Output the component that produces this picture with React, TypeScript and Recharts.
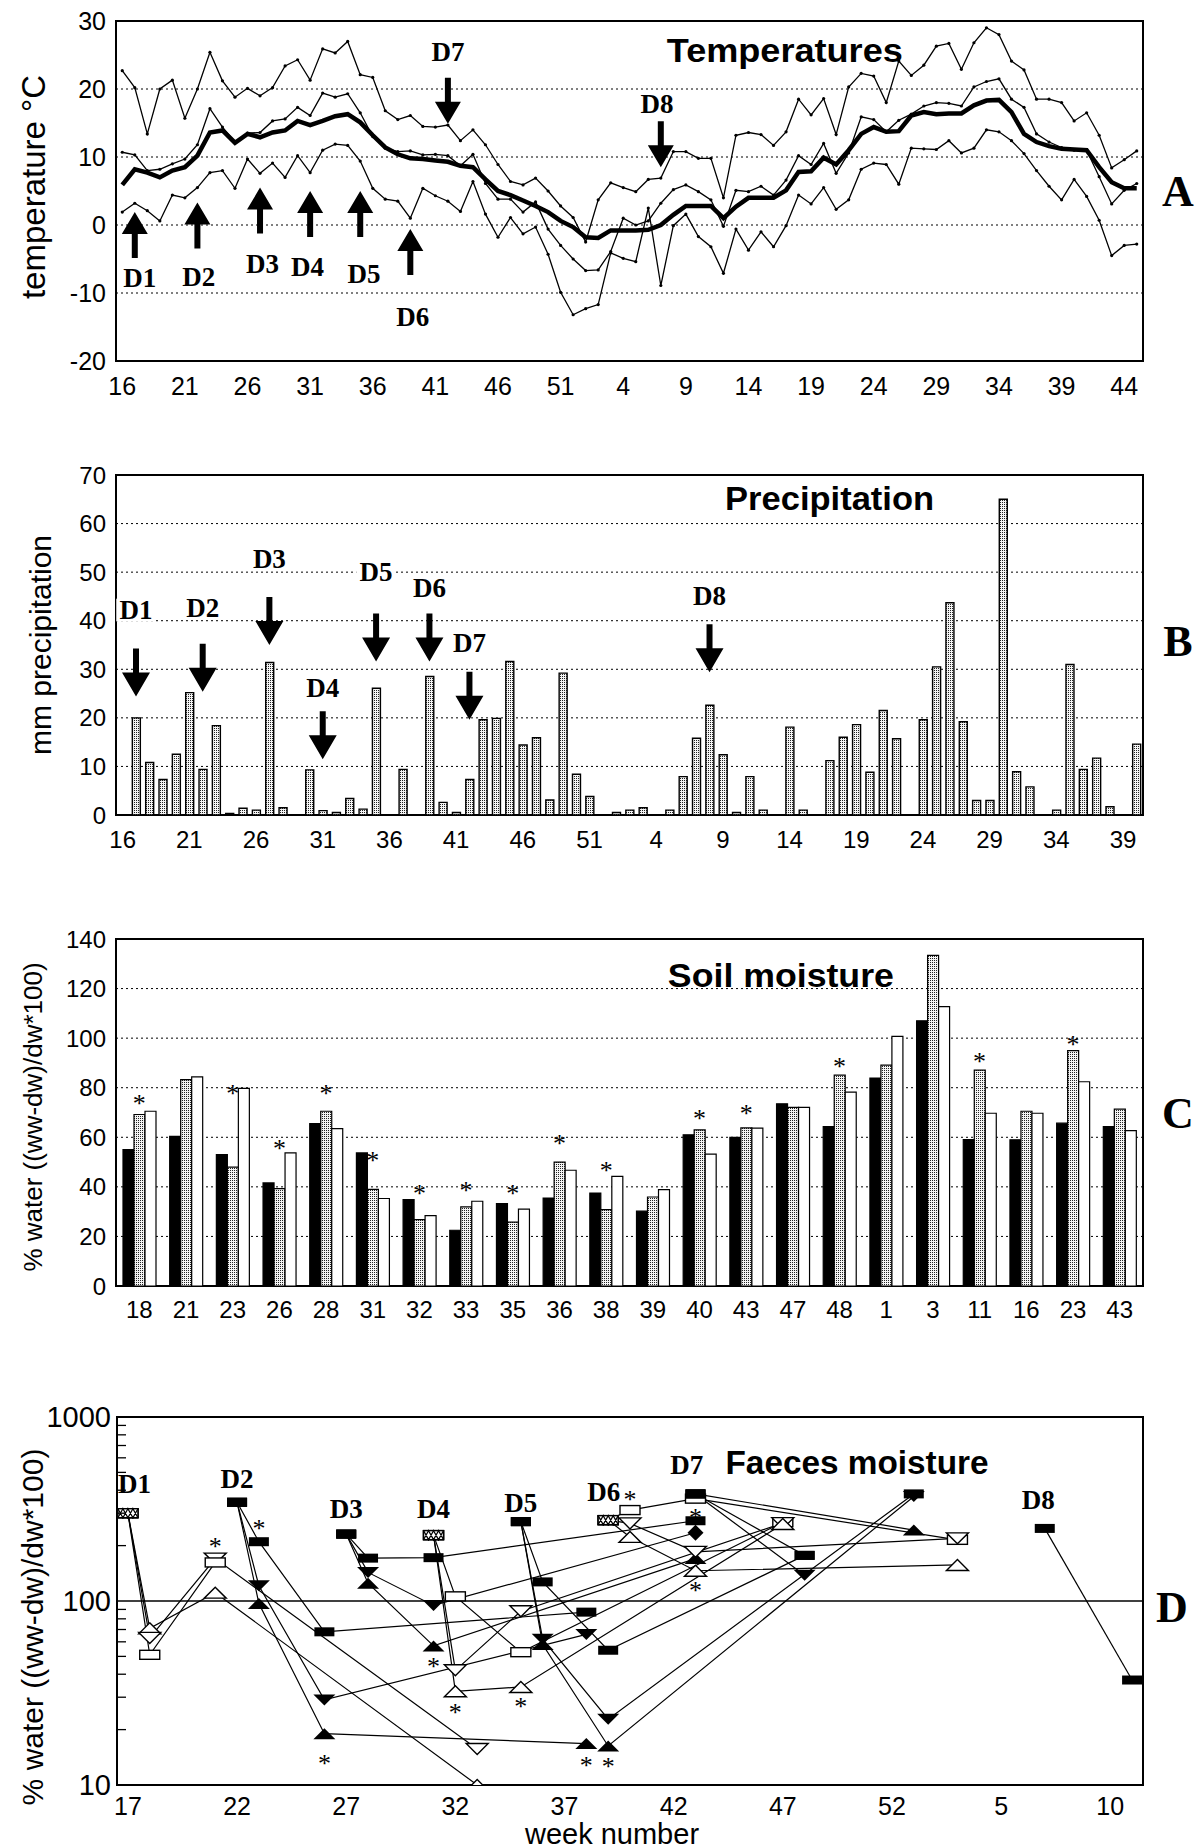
import React from 'react';
import {
  ComposedChart, Line, Bar, Scatter, XAxis, YAxis, CartesianGrid,
  ReferenceArea, ReferenceLine,
} from 'recharts';

const SANS = '"Liberation Sans", Arial, Helvetica, sans-serif';
const SERIF = '"Liberation Serif", "Times New Roman", serif';

// ---------------- Panel A : temperatures ----------------
const weeksA = [16,17,18,19,20,21,22,23,24,25,26,27,28,29,30,31,32,33,34,35,36,37,38,39,40,41,42,43,44,45,46,47,48,49,50,51,52,
  1,2,3,4,5,6,7,8,9,10,11,12,13,14,15,16,17,18,19,20,21,22,23,24,25,26,27,28,29,30,31,32,33,34,35,36,37,38,39,40,41,42,43,44,45];
const tickIdxA = [0,5,10,15,20,25,30,35,40,45,50,55,60,65,70,75,80];
const maxA = [22.7,20.2,13.4,20,21.3,15.7,20,25.4,21.2,18.8,20.1,19,20.2,23.4,24.3,21.3,25.9,25.3,27,22.1,21.7,16.8,15.5,16.1,14.5,14.4,14.7,12.4,14,11.8,8.9,6.4,5.9,6.9,5,2.8,1.1,
  -2.5,3.7,6.2,5.5,4.9,6.7,6.9,10.8,10.8,9.8,9.8,4.0,13.2,13.6,13.3,11.7,13.7,18.5,16.2,18.6,13.3,20.3,22.3,21.9,18,24.1,22,23.5,26.3,26.7,22.9,26.8,29,28,24.1,22.8,18.5,18.5,18,15.3,16.5,13.2,8.4,9.6,10.9];
const hiA = [10.7,10.3,8,8.2,9,9.7,11.8,17.1,14.4,12.2,13.5,13.6,15.3,15.6,17.3,16.1,19.4,18.8,19.3,16.5,13,11.3,10.8,10.9,10.3,10.4,10.2,8.7,10.4,6.1,3.8,3.8,1.9,3.4,-0.6,-3,-5,
  -6.7,-6.6,-3.9,1,0,0.6,3.2,5.2,5.9,4.9,3.7,-0.2,5.1,4.9,5.7,4.4,6.6,10.2,8.9,12,7.6,10.6,15.9,15.5,13.7,15.4,16.3,17.5,18,17.9,17.5,20.3,21.1,21.5,18.5,17.3,13.4,12.2,11.4,11,11,7.1,3.1,5.1,6.1];
const meanA = [5.9,8.2,7.7,7,8,8.5,10.2,13.6,13.9,12.1,13.4,12.9,13.6,13.9,15.3,14.7,15.3,16,16.3,15.1,13.2,11.4,10.4,9.8,9.7,9.5,9.3,8.7,8.5,6.7,5,4.4,3.6,2.8,1.9,0.6,-0.3,
  -1.8,-1.9,-0.8,-0.8,-0.8,-0.7,0,1.5,2.8,2.8,2.8,1,2.7,4,4,4,5.1,7.8,7.9,9.9,8.9,11,13.4,14.4,13.7,13.8,16.1,16.6,16.3,16.4,16.4,17.6,18.3,18.4,16.6,13.4,12.2,11.6,11.2,11.1,11,8.5,6.3,5.4,5.4];
const minA = [1.9,3.2,2.1,0.6,4.4,4,5.5,7.7,8,5.4,9.7,7.6,9.1,7,10.2,7.7,11,11.9,11.7,9.4,5.4,3.8,3.5,1,5.4,4.3,3.5,2,6.4,1.6,-1.8,1.1,-1.3,-0.3,-4.3,-9.9,-13.2,
  -12.3,-11.7,-4.1,-4.9,-5.4,2.5,-8.9,-0.1,1.6,-1.7,-3.2,-7.1,-0.6,-3.7,-1,-3.2,-0.1,4.4,3.1,5.5,2.3,3.7,8.2,9.1,8.9,6,11.3,11.2,11.1,12.4,10.6,11.3,14,13.7,12.4,10.5,8,5.7,3.7,6.7,4.2,0.7,-4.5,-3,-2.8];
const arrowsA = [
  { i: 1, y: 1.9, dir: 'up' }, { i: 6, y: 3.3, dir: 'up' }, { i: 11, y: 5.5, dir: 'up' },
  { i: 15, y: 5, dir: 'up' }, { i: 19, y: 5, dir: 'up' }, { i: 23, y: -0.6, dir: 'up' },
  { i: 26, y: 14.9, dir: 'down' }, { i: 43, y: 8.5, dir: 'down' },
];
const labelsA = [
  { i: 1.4, y: -7.8, t: 'D1' }, { i: 6.1, y: -7.7, t: 'D2' }, { i: 11.2, y: -5.7, t: 'D3' },
  { i: 14.8, y: -6.2, t: 'D4' }, { i: 19.3, y: -7.2, t: 'D5' }, { i: 23.2, y: -13.6, t: 'D6' },
  { i: 26, y: 25.4, t: 'D7' }, { i: 42.7, y: 17.8, t: 'D8' },
];
const titleA = [{ i: 52.9, y: 25.8, t: 'Temperatures' }];
const rowsA = weeksA.map((w, i) => ({ i, w, max: maxA[i], hi: hiA[i], mean: meanA[i], min: minA[i] }));

// ---------------- Panel B : precipitation ----------------
const weeksB = [16,17,18,19,20,21,22,23,24,25,26,27,28,29,30,31,32,33,34,35,36,37,38,39,40,41,42,43,44,45,46,47,48,49,50,51,52,
  1,2,3,4,5,6,7,8,9,10,11,12,13,14,15,16,17,18,19,20,21,22,23,24,25,26,27,28,29,30,31,32,33,34,35,36,37,38,39,40];
const precipB = [0,20,10.8,7.3,12.5,25.2,9.4,18.4,0.3,1.4,1.0,31.4,1.5,0,9.3,0.9,0.5,3.4,1.2,26.1,0,9.4,0,28.5,2.6,0.5,7.3,19.6,19.9,31.6,14.4,15.9,3.1,29.2,8.4,3.8,0,
  0.5,1.0,1.5,0,1.0,7.9,15.8,22.6,12.4,0.5,7.9,1,0,18.1,1,0,11.2,16,18.6,8.8,21.5,15.7,0,19.6,30.5,43.7,19.2,3,3,65,8.9,5.8,0,1,31,9.4,11.7,1.7,0,14.6];
const arrowsB = [
  { k: 'a17', y: 24.4 }, { k: 'a22', y: 25.4 }, { k: 'a27', y: 35 }, { k: 'a31', y: 11.5 },
  { k: 'a35', y: 31.6 }, { k: 'a39', y: 31.6 }, { k: 'a42', y: 19.6 }, { k: 'b8', y: 29.4 },
];
const labelsB = [
  { k: 'a17', y: 42.2, t: 'D1' }, { k: 'a22', y: 42.6, t: 'D2' }, { k: 'a27', y: 52.8, t: 'D3' },
  { k: 'a31', y: 26.1, t: 'D4' }, { k: 'a35', y: 50.1, t: 'D5' }, { k: 'a39', y: 46.7, t: 'D6' },
  { k: 'a42', y: 35.5, t: 'D7' }, { k: 'b8', y: 45, t: 'D8' },
];
const titleB = { k: 'b17', y: 65.3, t: 'Precipitation' };
const rowsB = weeksB.map((w, i) => {
  const k = (i < 37 ? 'a' : 'b') + w;
  const ar = arrowsB.find((a) => a.k === k);
  const lb = labelsB.find((a) => a.k === k);
  return {
    k, w, p: precipB[i],
    arrow: ar ? ar.y : null,
    labY: lb ? lb.y : null, t: lb ? lb.t : null,
    ttlY: titleB.k === k ? titleB.y : null, ttl: titleB.k === k ? titleB.t : null,
  };
});

// ---------------- Panel C : soil moisture ----------------
const catsC = ['18','21','23','26','28','31','32','33','35','36','38','39','40','43','47','48','1','3','11','16','23','43'];
const blackC = [55,60.4,53,41.6,65.5,53.7,34.9,22.5,33.2,35.5,37.5,30.2,61,60,73.5,64.3,83.9,107,59.1,59,65.7,64.3];
const dotC = [69.2,83.3,48,39.3,70.5,39,26.8,31.9,25.8,50,30.8,35.9,63,63.8,72.1,85.1,89.1,133.4,87.1,70.5,95,71.4];
const whiteC = [70.5,84.4,79.7,53.7,63.5,35.3,28.4,34.2,31,46.7,44.2,38.9,53.2,63.7,72.1,78.2,100.7,112.7,69.7,69.7,82.4,62.7];
const starC = [75,null,79,57,79,52,39,40,39,59,48,null,69,71,null,90,null,null,92,null,99,null];
const titleC = { idx: 14, y: 125.5, t: 'Soil moisture' };
const rowsC = catsC.map((c, i) => ({
  k: 'c' + i, b: blackC[i], d: dotC[i], w: whiteC[i], star: starC[i],
  ttlY: titleC.idx === i ? titleC.y : null, ttl: titleC.idx === i ? titleC.t : null,
}));

// ---------------- Panel D : faeces moisture ----------------
// each polyline: [week index (weeks after 52 continue as 53, 54 ...), value, marker]
const d1Lines = [
  [[17,300,'X'],[18,71,'oU'],[21,111,'oU'],[33,10,'oU']],
  [[17,300,'X'],[18,63,'oD'],[21,170,'oD'],[33,15.7,'oD']],
  [[17,300,'X'],[18,51,'oS'],[21,162,'oS']],
];
const d2Lines = [
  [[22,344,'S'],[23,210,'S'],[26,68,'S'],[38,87,'S']],
  [[22,344,'S'],[23,121,'Dn'],[26,29,'Dn'],[38,65.8,'Dn']],
  [[22,344,'S'],[23,97,'U'],[26,19,'U'],[38,16.8,'U']],
];
const d3Lines = [
  [[27,231,'S'],[28,171,'S'],[31,172,'S'],[43,273,'S']],
  [[27,231,'S'],[28,143,'Dn'],[31,94.6,'Dn'],[43,235,'Dm']],
  [[27,231,'S'],[28,125,'U'],[31,57,'U'],[43,170,'U']],
];
const d4Lines = [
  [[31,228,'X'],[32,106,'oS'],[35,52.7,'oS'],[47,268,'oS']],
  [[31,228,'X'],[32,42,'oD'],[35,88,'oD'],[47,265,'oD']],
  [[31,228,'X'],[32,32.3,'oU'],[35,34.1,'oU'],[47,262,'oU']],
];
const d5Lines = [
  [[35,270,'S'],[36,127,'S'],[39,54,'S'],[48,177,'S']],
  [[35,270,'S'],[36,62,'Dn'],[39,22.8,'Dn'],[53,382,'S']],
  [[35,270,'S'],[36,58,'U'],[39,16.3,'U'],[53,370,'Dn']],
];
const d6Lines = [
  [[39,275,'X'],[40,312,'oS'],[43,360,'oS'],[55,215,'oS']],
  [[39,275,'X'],[40,264,'oD'],[43,185,'oD'],[55,219,'oD']],
  [[39,275,'X'],[40,223,'oU'],[43,146,'oU'],[55,157,'oU']],
];
const d7Lines = [
  [[43,382,'S'],[48,177,'S']],
  [[43,382,'S'],[48,138,'Dn']],
  [[43,382,'S'],[53,243,'U']],
];
const d8Lines = [
  [[59,248,'S'],[63,37.2,'S']],
];
const starsD = [[21,208],[23,259],[26,13.7],[31,46],[32,26],[35,27.9],[38,13.4],[39,13.2],[40,374],[43,299],[43,119]];
const labelsD = [[17.3,433,'D1'],[22,461,'D2'],[27,316,'D3'],[31,316,'D4'],[35,343,'D5'],[38.8,393,'D6'],[42.6,549,'D7'],[58.7,354,'D8']];
const titleD = [{ w: 50.4, v: 570, t: 'Faeces moisture' }];
const ticksD = [17,22,27,32,37,42,47,52,57,62];
const logTicksD = [10,20,30,40,50,60,70,80,90,100,200,300,400,500,600,700,800,900,1000];

const allLinesD = [...d1Lines, ...d2Lines, ...d3Lines, ...d4Lines, ...d5Lines, ...d6Lines, ...d7Lines, ...d8Lines];
const lineDataD = allLinesD.map((l) => l.map(([w, v]) => ({ w, v })));
const markersD = allLinesD.flat().map(([w, v, m]) => ({ w, v, m }));
const starDataD = starsD.map(([w, v]) => ({ w, v, t: '*' }));
const labelDataD = labelsD.map(([w, v, t]) => ({ w, v, t }));

// ---------------- shapes ----------------
const ok = (n: any) => typeof n === 'number' && Number.isFinite(n);

const arrowShape = (key: string, L: number, head: number, hw: number, sw: number) => (p: any) => {
  const { cx, cy, payload } = p;
  if (!payload || payload[key] == null || !ok(cx) || !ok(cy)) return <g />;
  const s = payload.dir === 'up' ? 1 : -1;
  const pts = [
    [cx, cy], [cx + hw, cy + s * head], [cx + sw / 2, cy + s * head], [cx + sw / 2, cy + s * L],
    [cx - sw / 2, cy + s * L], [cx - sw / 2, cy + s * head], [cx - hw, cy + s * head],
  ].map((q) => q.join(',')).join(' ');
  return <polygon points={pts} fill="#000" />;
};

const textShape = (key: string, fs: number, family: string, weight: string, opts: any = {}) => (p: any) => {
  const { cx, cy, payload } = p;
  const t = payload ? payload[key] : null;
  if (!t || !ok(cx) || !ok(cy)) return <g />;
  const x = cx + (opts.dx || 0);
  const w = opts.tl || String(t).length * fs * 0.62;
  return (
    <g>
      {opts.bg && <rect x={x - w / 2 - 3} y={cy - fs * 0.42} width={w + 6} height={fs * 0.84} fill="#fff" />}
      <text x={x} y={cy} textAnchor="middle" dominantBaseline="central" fontFamily={family} fontWeight={weight}
        fontSize={fs} fill="#000" textLength={opts.tl} lengthAdjust={opts.tl ? 'spacingAndGlyphs' : undefined}>{t}</text>
    </g>
  );
};

const starShape = (key: string, fs: number) => (p: any) => {
  const { cx, cy, payload } = p;
  if (!payload || payload[key] == null || !ok(cx) || !ok(cy)) return <g />;
  return <text x={cx} y={cy + fs * 0.47} textAnchor="middle" fontFamily={SERIF} fontSize={fs} fill="#000">*</text>;
};

const markerShape = (p: any) => {
  const { cx, cy, payload } = p;
  if (!payload || !ok(cx) || !ok(cy)) return <g />;
  const m = payload.m;
  const hw = 10, hh = 4.5, tw = 11, th = 5.5;
  switch (m) {
    case 'S': return <rect x={cx - hw} y={cy - hh} width={hw * 2} height={hh * 2} fill="#000" />;
    case 'oS': return <rect x={cx - hw} y={cy - hh} width={hw * 2} height={hh * 2} fill="#fff" stroke="#000" strokeWidth={1.4} />;
    case 'X': return (
      <g>
        <rect x={cx - hw} y={cy - hh} width={hw * 2} height={hh * 2} fill="#fff" stroke="#000" strokeWidth={1.4} />
        <path d={`M${cx - hw},${cy - hh} L${cx - hw / 2},${cy + hh} L${cx},${cy - hh} L${cx + hw / 2},${cy + hh} L${cx + hw},${cy - hh} M${cx - hw},${cy + hh} L${cx - hw / 2},${cy - hh} L${cx},${cy + hh} L${cx + hw / 2},${cy - hh} L${cx + hw},${cy + hh}`}
          stroke="#000" strokeWidth={1.2} fill="none" />
      </g>
    );
    case 'U': return <polygon points={`${cx},${cy - th} ${cx + tw},${cy + th} ${cx - tw},${cy + th}`} fill="#000" />;
    case 'Dn': return <polygon points={`${cx},${cy + th} ${cx + tw},${cy - th} ${cx - tw},${cy - th}`} fill="#000" />;
    case 'oU': return <polygon points={`${cx},${cy - th} ${cx + tw},${cy + th} ${cx - tw},${cy + th}`} fill="#fff" stroke="#000" strokeWidth={1.4} />;
    case 'oD': return <polygon points={`${cx},${cy + th} ${cx + tw},${cy - th} ${cx - tw},${cy - th}`} fill="#fff" stroke="#000" strokeWidth={1.4} />;
    case 'Dm': return <polygon points={`${cx},${cy - 8} ${cx + 8},${cy} ${cx},${cy + 8} ${cx - 8},${cy}`} fill="#000" />;
    default: return <g />;
  }
};

const LogTick = (props: any) => {
  const { x, y, payload } = props;
  const v = payload.value;
  const major = v === 10 || v === 100 || v === 1000;
  return (
    <g>
      {!major && <line x1={x} x2={x + 9} y1={y} y2={y} stroke="#000" strokeWidth={1.3} />}
      {major && <text x={x - 6} y={y} textAnchor="end" dominantBaseline="central" fontSize={29} fontFamily={SANS} fill="#000">{v}</text>}
    </g>
  );
};

const tickStyle = (fs: number) => ({ fontSize: fs, fill: '#000', fontFamily: SANS });

const VTitle = ({ text, cx, cy, fs }: any) => (
  <div style={{ position: 'absolute', left: cx, top: cy, transform: 'translate(-50%,-50%) rotate(-90deg)', fontSize: fs, fontFamily: SANS, whiteSpace: 'nowrap', lineHeight: 1, color: '#000' }}>{text}</div>
);
const Letter = ({ text, cx, cy }: any) => (
  <div style={{ position: 'absolute', left: cx, top: cy, transform: 'translate(-50%,-50%)', fontSize: 44, fontFamily: SERIF, fontWeight: 'bold', lineHeight: 1, color: '#000' }}>{text}</div>
);

const frame = { fill: 'none', fillOpacity: 0, stroke: '#000', strokeWidth: 2 };

export default function App() {
  return (
    <div style={{ position: 'absolute', left: 0, top: 0, width: 1202, height: 1848, background: '#fff', overflow: 'hidden' }}>
      <svg width={0} height={0} style={{ position: 'absolute' }}>
        <defs>
          <pattern id="stip" width={2} height={2} patternUnits="userSpaceOnUse">
            <rect width={2} height={2} fill="#f4f4f4" />
            <rect x={0} y={0} width={1} height={1} fill="#222" />
          </pattern>
        </defs>
      </svg>

      {/* Panel A */}
      <div style={{ position: 'absolute', left: 0, top: 0 }}>
        <ComposedChart width={1202} height={400} data={rowsA} margin={{ top: 21, right: 59, bottom: 9, left: 0 }}>
          <CartesianGrid vertical={false} stroke="#000" strokeDasharray="2 3" />
          <XAxis dataKey="i" type="number" domain={[-0.5, 81.5]} ticks={tickIdxA} interval={0}
            tickFormatter={(v: number) => String(weeksA[v])} axisLine={false} tickLine={false} tickSize={0} tickMargin={16} height={30} tick={tickStyle(25)} />
          <YAxis type="number" domain={[-20, 30]} ticks={[-20, -10, 0, 10, 20, 30]} interval={0} width={116}
            axisLine={false} tickLine={false} tickSize={0} tickMargin={10} tick={tickStyle(25)} />
          <ReferenceArea y1={-20} y2={30} {...frame} />
          <Line dataKey="max" stroke="#000" strokeWidth={1.3} dot={{ r: 1.6, fill: '#000', stroke: 'none' }} isAnimationActive={false} />
          <Line dataKey="hi" stroke="#000" strokeWidth={1.3} dot={{ r: 1.6, fill: '#000', stroke: 'none' }} isAnimationActive={false} />
          <Line dataKey="min" stroke="#000" strokeWidth={1.3} dot={{ r: 1.6, fill: '#000', stroke: 'none' }} isAnimationActive={false} />
          <Line dataKey="mean" stroke="#000" strokeWidth={4.5} dot={false} isAnimationActive={false} />
          <Scatter data={arrowsA} dataKey="y" shape={arrowShape('y', 46, 22, 13, 6)} isAnimationActive={false} />
          <Scatter data={labelsA} dataKey="y" shape={textShape('t', 27, SERIF, 'bold')} isAnimationActive={false} />
          <Scatter data={titleA} dataKey="y" shape={textShape('t', 34, SANS, 'bold', { tl: 236 })} isAnimationActive={false} />
        </ComposedChart>
      </div>

      {/* Panel B */}
      <div style={{ position: 'absolute', left: 0, top: 440 }}>
        <ComposedChart width={1202} height={430} data={rowsB} margin={{ top: 35, right: 59, bottom: 25, left: 0 }}>
          <CartesianGrid vertical={false} stroke="#000" strokeDasharray="2 3" />
          <XAxis dataKey="k" type="category" interval={4} tickFormatter={(k: string) => k.slice(1)}
            axisLine={false} tickLine={false} tickSize={0} tickMargin={16} height={30} tick={tickStyle(24)} />
          <YAxis type="number" domain={[0, 70]} ticks={[0, 10, 20, 30, 40, 50, 60, 70]} interval={0} width={116}
            axisLine={false} tickLine={false} tickSize={0} tickMargin={10} tick={tickStyle(24)} />
          <ReferenceArea y1={0} y2={70} {...frame} />
          <Bar dataKey="p" fill="url(#stip)" stroke="#000" strokeWidth={1.4} barSize={8} isAnimationActive={false} />
          <Scatter dataKey="labY" shape={textShape('t', 27, SERIF, 'bold', { bg: true })} isAnimationActive={false} />
          <Scatter dataKey="arrow" shape={arrowShape('arrow', 48, 24, 14, 6)} isAnimationActive={false} />
          <Scatter dataKey="ttlY" shape={textShape('ttl', 34, SANS, 'bold', { tl: 209 })} isAnimationActive={false} />
        </ComposedChart>
      </div>

      {/* Panel C */}
      <div style={{ position: 'absolute', left: 0, top: 900 }}>
        <ComposedChart width={1202} height={430} data={rowsC} margin={{ top: 39, right: 59, bottom: 14, left: 0 }} barGap={0}>
          <CartesianGrid vertical={false} stroke="#000" strokeDasharray="2 3" />
          <XAxis dataKey="k" type="category" interval={0} tickFormatter={(k: string) => catsC[Number(k.slice(1))]}
            axisLine={false} tickLine={false} tickSize={0} tickMargin={15} height={30} tick={tickStyle(24)} />
          <YAxis type="number" domain={[0, 140]} ticks={[0, 20, 40, 60, 80, 100, 120, 140]} interval={0} width={116}
            axisLine={false} tickLine={false} tickSize={0} tickMargin={10} tick={tickStyle(24)} />
          <ReferenceArea y1={0} y2={140} {...frame} />
          <Bar dataKey="b" fill="#000" stroke="#000" strokeWidth={1.2} barSize={11} isAnimationActive={false} />
          <Bar dataKey="d" fill="url(#stip)" stroke="#000" strokeWidth={1.2} barSize={11} isAnimationActive={false} />
          <Bar dataKey="w" fill="#fff" stroke="#000" strokeWidth={1.2} barSize={11} isAnimationActive={false} />
          <Scatter dataKey="star" shape={starShape('star', 26)} isAnimationActive={false} />
          <Scatter dataKey="ttlY" shape={textShape('ttl', 34, SANS, 'bold', { tl: 226, dx: -12 })} isAnimationActive={false} />
        </ComposedChart>
      </div>

      {/* Panel D */}
      <div style={{ position: 'absolute', left: 0, top: 1380 }}>
        <ComposedChart width={1202} height={468} margin={{ top: 37, right: 59, bottom: 33, left: 0 }}>
          <XAxis dataKey="w" type="number" domain={[16.5, 63.5]} ticks={ticksD} interval={0}
            tickFormatter={(v: number) => String(v > 52 ? v - 52 : v)} axisLine={false} tickLine={false} tickSize={0} tickMargin={12} height={30} tick={tickStyle(25)} />
          <YAxis type="number" scale="log" domain={[10, 1000]} ticks={logTicksD} interval={0} allowDataOverflow width={117}
            axisLine={false} tickLine={false} tickSize={0} tickMargin={0} tick={(p: any) => <LogTick {...p} />} />
          <ReferenceArea y1={10} y2={1000} {...frame} />
          <ReferenceLine y={100} stroke="#000" strokeWidth={1.3} />
          {lineDataD.map((d, idx) => (
            <Line key={idx} data={d} dataKey="v" stroke="#000" strokeWidth={1.2} dot={false} isAnimationActive={false} />
          ))}
          <Scatter data={markersD} dataKey="v" shape={markerShape} isAnimationActive={false} />
          <Scatter data={starDataD} dataKey="v" shape={starShape('t', 26)} isAnimationActive={false} />
          <Scatter data={labelDataD} dataKey="v" shape={textShape('t', 27, SERIF, 'bold')} isAnimationActive={false} />
          <Scatter data={titleD} dataKey="v" shape={textShape('t', 34, SANS, 'bold', { tl: 263 })} isAnimationActive={false} />
        </ComposedChart>
      </div>

      <VTitle text="temperature °C" cx={33} cy={187} fs={33} />
      <VTitle text="mm precipitation" cx={41} cy={645} fs={30} />
      <VTitle text="% water ((ww-dw)/dw*100)" cx={33} cy={1117} fs={26} />
      <VTitle text="% water ((ww-dw)/dw*100)" cx={33} cy={1627} fs={30} />
      <div style={{ position: 'absolute', left: 612, top: 1834, transform: 'translate(-50%,-50%)', fontSize: 29, fontFamily: SANS, whiteSpace: 'nowrap', lineHeight: 1 }}>week number</div>
      <Letter text="A" cx={1178} cy={192} />
      <Letter text="B" cx={1178} cy={642} />
      <Letter text="C" cx={1178} cy={1114} />
      <Letter text="D" cx={1172} cy={1608} />
    </div>
  );
}
